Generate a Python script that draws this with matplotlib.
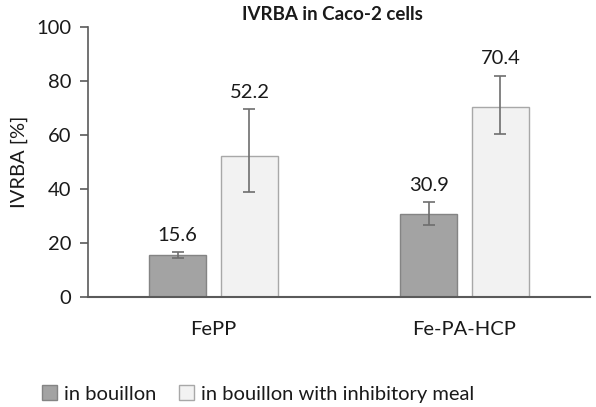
import matplotlib
matplotlib.use("Agg")
import matplotlib.pyplot as plt
import numpy as np

categories = ["FePP", "Fe-PA-HCP"]
series_names = ["in bouillon", "in bouillon with inhibitory meal"]
bouillon = [15.6, 30.9]
bouillon_err_lo = [1.2, 4.2]
bouillon_err_hi = [1.0, 4.2]
inhib = [52.2, 70.4]
inhib_err_lo = [13.2, 10.0]
inhib_err_hi = [17.3, 11.6]
yticks = [0, 20, 40, 60, 80, 100]

plt.rcParams['font.family'] = ['Lato', 'DejaVu Sans']

fig = plt.figure(figsize=(5.96, 4.07), dpi=100)
ax = fig.add_axes([88/596, 1-297/407, 502/596, 270/407])

x = np.arange(len(categories))
w = 0.227
off = 0.143
axis_col = '#5a5a5a'
err_col = '#6e6e6e'
fs = 14.5

b1 = ax.bar(x - off, bouillon, w, color='#a3a3a3', edgecolor='#848484', linewidth=1,
            yerr=[bouillon_err_lo, bouillon_err_hi], error_kw=dict(ecolor=err_col, elinewidth=1.2, capsize=4, capthick=1.2),
            label=series_names[0], zorder=2)
b2 = ax.bar(x + off, inhib, w, color='#f2f2f2', edgecolor='#a8a8a8', linewidth=1,
            yerr=[inhib_err_lo, inhib_err_hi], error_kw=dict(ecolor=err_col, elinewidth=1.2, capsize=4, capthick=1.2),
            label=series_names[1], zorder=2)

for xi, v, e in zip(x - off, bouillon, bouillon_err_hi):
    ax.text(xi, v + e + 3, f"{v:.1f}", ha='center', va='bottom', fontsize=fs, color='#1a1a1a')
for xi, v, e in zip(x + off, inhib, inhib_err_hi):
    ax.text(xi, v + e + 3, f"{v:.1f}", ha='center', va='bottom', fontsize=fs, color='#1a1a1a')

ax.set_xlim(-0.5, 1.5)
ax.set_ylim(0, 100)
ax.set_yticks(yticks)
ax.set_yticklabels([str(t) for t in yticks], fontsize=fs, color='#1a1a1a')
ax.set_xticks(x)
ax.set_xticklabels(categories, fontsize=fs, color='#1a1a1a')
ax.tick_params(axis='x', length=0, pad=17)
ax.tick_params(axis='y', length=6, width=1.2, color=axis_col, pad=6)
for s in ['top', 'right']:
    ax.spines[s].set_visible(False)
ax.spines['left'].set_color(axis_col)
ax.spines['bottom'].set_color(axis_col)
ax.spines['left'].set_linewidth(1.2)
ax.spines['bottom'].set_linewidth(1.5)

ax.set_ylabel("IVRBA [%]", fontsize=fs, color='#1a1a1a', labelpad=6)
fig.text(332/596, 1-14/407, "IVRBA in Caco-2 cells", ha='center', va='center', fontsize=13.5, fontweight='bold', color='#1a1a1a')

leg = fig.legend(handles=[b1, b2], labels=series_names, loc='center left', bbox_to_anchor=(34/596, 1-394/407),
                 ncol=2, frameon=False, fontsize=fs, handlelength=0.75, handleheight=0.75, handletextpad=0.35,
                 columnspacing=1.1, borderaxespad=0)
for t in leg.get_texts():
    t.set_color('#1a1a1a')

fig.savefig("out.png", dpi=100)
